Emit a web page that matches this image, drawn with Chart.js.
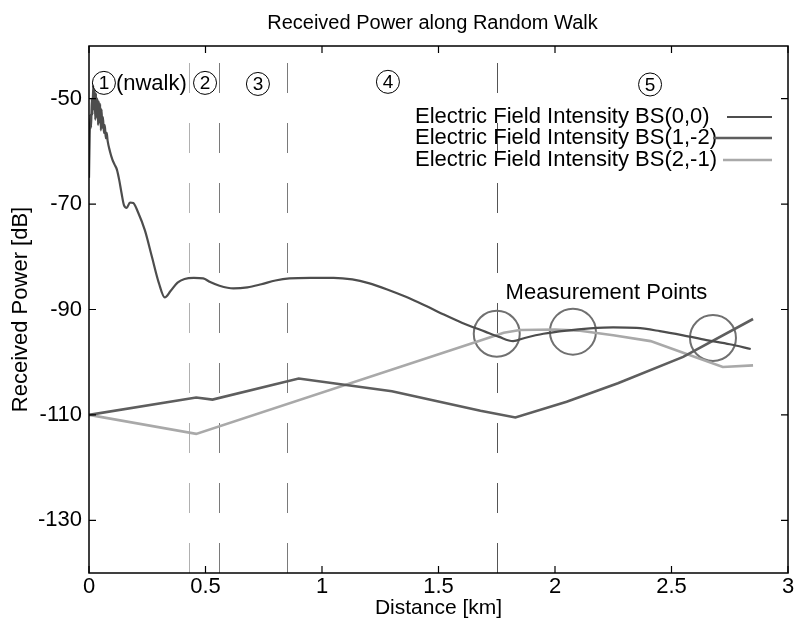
<!DOCTYPE html>
<html>
<head>
<meta charset="utf-8">
<title>Received Power along Random Walk</title>
<script src="https://cdn.jsdelivr.net/npm/chart.js@4.4.1/dist/chart.umd.min.js"></script>
<style>
  html, body { margin: 0; padding: 0; background: #fff; overflow: hidden; }
  #wrap { width: 797px; height: 631px; }
  canvas { display: block; }
</style>
</head>
<body>
<div id="wrap"><canvas id="chart" width="797" height="631"></canvas></div>
<script>
/* =========================
   DATA
========================= */
const seriesNames = [
  "Electric Field Intensity BS(0,0)",
  "Electric Field Intensity BS(1,-2)",
  "Electric Field Intensity BS(2,-1)"
];

const bs00Dist = [0, 0.003, 0.006, 0.009, 0.012, 0.015, 0.018, 0.021, 0.024, 0.027, 0.03,
  0.033, 0.036, 0.039, 0.042, 0.045, 0.048, 0.051, 0.054, 0.057, 0.06, 0.064, 0.068, 0.072,
  0.076, 0.08, 0.09, 0.1, 0.11,
  0.12, 0.13, 0.14, 0.15, 0.162, 0.176, 0.19, 0.21, 0.24, 0.27, 0.3, 0.325, 0.35, 0.38,
  0.41, 0.45, 0.49, 0.52, 0.56, 0.62, 0.68, 0.74, 0.8, 0.86, 0.95, 1.05, 1.13, 1.2, 1.28,
  1.36, 1.44, 1.52, 1.6, 1.7, 1.76, 1.82, 1.87, 1.95, 2.05, 2.15, 2.25, 2.35, 2.45, 2.55,
  2.65, 2.75, 2.84];
const bs00Power = [-65, -57, -53, -55.5, -50, -53, -47.5, -52, -48.5, -54, -49,
  -53.5, -50, -55, -50.5, -54.5, -51, -56, -52, -55.5, -53.5, -56.5, -55, -57.5,
  -56.5, -58, -60, -61.5, -62.5,
  -63.5, -65.5, -68, -70.2, -70.7, -69.7, -69.8, -71.5, -75, -80, -85, -87.7, -86.5, -84.9,
  -84.2, -84, -84.1, -84.8, -85.5, -86, -85.8, -85.2, -84.5, -84.1, -84, -84, -84.3, -85, -86.2,
  -87.6, -89.2, -90.9, -92.5, -94.2, -95.2, -96, -95.4, -94.6, -94, -93.6, -93.4, -93.5, -94.1, -94.9,
  -95.8, -96.6, -97.5];

const bs12Dist = [0, 0.46, 0.53, 0.9, 1.3, 1.68, 1.83, 2.05, 2.27, 2.55, 2.85];
const bs12Power = [-110, -106.7, -107.1, -103.1, -105.5, -109.2, -110.5, -107.5, -104, -99, -91.8];

const bs21Dist = [0, 0.46, 1.68, 1.78, 1.85, 2.0, 2.1, 2.25, 2.41, 2.55, 2.72, 2.85];
const bs21Power = [-110, -113.6, -95.9, -94.4, -93.9, -93.8, -94, -94.9, -96, -98.2, -100.9, -100.6];

// measurement points (circled)
const measDist = [1.75, 2.077, 2.678];
const measPower = [-94.6, -94.2, -95.4];

// section borders (dashed)
const sectionDist = [0.43, 0.56, 0.85, 1.75];

const xTicks = [0, 0.5, 1, 1.5, 2, 2.5, 3];
const yTicks = [-130, -110, -90, -70, -50];

/* =========================
   STYLE
========================= */
const FONT = "'Liberation Sans', Arial, Helvetica, sans-serif";
const lineColors = ["#4d4d4d", "#5e5e5e", "#a9a9a9"];
const sectionColors = ["#b0b0b0", "#7a7a7a", "#7a7a7a", "#555555"];

// section labels: circled number, optional trailing text, placed in km / dB
const sectionLabels = [
  { n: "1", x: 0.064, y: -47, extra: "(nwalk)" },
  { n: "2", x: 0.498, y: -47 },
  { n: "3", x: 0.725, y: -47.2 },
  { n: "4", x: 1.283, y: -46.8 },
  { n: "5", x: 2.408, y: -47.3 }
];

function zip(xs, ys) {
  return xs.map((x, i) => ({ x: x, y: ys[i] }));
}

/* =========================
   PLUGINS
========================= */
const sectionPlugin = {
  id: "sections",
  beforeDatasetsDraw(chart) {
    const { ctx, chartArea, scales } = chart;
    ctx.save();
    ctx.lineWidth = 1;
    ctx.setLineDash([30, 30]);
    sectionDist.forEach((d, i) => {
      const px = Math.round(scales.x.getPixelForValue(d)) + 0.5;
      ctx.strokeStyle = sectionColors[i];
      ctx.beginPath();
      ctx.moveTo(px, chartArea.bottom);
      ctx.lineTo(px, chartArea.top);
      ctx.stroke();
    });
    ctx.restore();
  }
};

const framePlugin = {
  id: "frame",
  afterDatasetsDraw(chart) {
    const { ctx, chartArea, scales } = chart;
    const { left, right, top, bottom } = chartArea;
    const tl = 7;
    ctx.save();
    ctx.strokeStyle = "#000";
    ctx.lineWidth = 1.5;
    ctx.strokeRect(left, top, right - left, bottom - top);
    ctx.lineWidth = 1.2;
    ctx.beginPath();
    xTicks.forEach(v => {
      const px = scales.x.getPixelForValue(v);
      ctx.moveTo(px, bottom); ctx.lineTo(px, bottom - tl);
      ctx.moveTo(px, top); ctx.lineTo(px, top + tl);
    });
    yTicks.forEach(v => {
      const py = scales.y.getPixelForValue(v);
      ctx.moveTo(left, py); ctx.lineTo(left + tl, py);
      ctx.moveTo(right, py); ctx.lineTo(right - tl, py);
    });
    ctx.stroke();

    // title over the plot
    ctx.fillStyle = "#000";
    ctx.font = "20px " + FONT;
    ctx.textAlign = "center";
    ctx.textBaseline = "middle";
    ctx.fillText("Received Power along Random Walk", (left + right) / 2 - 6, 23);

    // circled section numbers
    sectionLabels.forEach(s => {
      const cx = scales.x.getPixelForValue(s.x);
      const cy = scales.y.getPixelForValue(s.y);
      ctx.lineWidth = 1;
      ctx.beginPath();
      ctx.arc(cx, cy, 11.5, 0, Math.PI * 2);
      ctx.stroke();
      ctx.font = "19px " + FONT;
      ctx.textAlign = "center";
      ctx.fillText(s.n, cx, cy + 1);
      if (s.extra) {
        ctx.font = "22px " + FONT;
        ctx.textAlign = "left";
        ctx.fillText(s.extra, cx + 12, cy + 1);
      }
    });

    // measurement points label
    ctx.font = "22px " + FONT;
    ctx.textAlign = "center";
    ctx.fillText("Measurement Points", scales.x.getPixelForValue(2.221), scales.y.getPixelForValue(-86.95));

    // legend
    const lx = 415;
    const rows = [117, 138, 160];
    const sampleStart = [727, 713, 723];
    chart.data.datasets.slice(0, 3).forEach((ds, i) => {
      ctx.textAlign = "left";
      ctx.fillStyle = "#000";
      ctx.fillText(ds.label, lx, rows[i]);
      ctx.strokeStyle = ds.borderColor;
      ctx.lineWidth = ds.borderWidth;
      ctx.beginPath();
      ctx.moveTo(sampleStart[i], rows[i]);
      ctx.lineTo(772, rows[i]);
      ctx.stroke();
    });
    ctx.restore();
  }
};

/* =========================
   CHART
========================= */
const canvas = document.getElementById("chart");

new Chart(canvas, {
  type: "line",
  data: {
    datasets: [
      {
        label: seriesNames[0],
        data: zip(bs00Dist, bs00Power),
        borderColor: lineColors[0],
        borderWidth: 2.2,
        pointRadius: 0,
        cubicInterpolationMode: "monotone"
      },
      {
        label: seriesNames[1],
        data: zip(bs12Dist, bs12Power),
        borderColor: lineColors[1],
        borderWidth: 2.6,
        pointRadius: 0,
        tension: 0
      },
      {
        label: seriesNames[2],
        data: zip(bs21Dist, bs21Power),
        borderColor: lineColors[2],
        borderWidth: 2.6,
        pointRadius: 0,
        tension: 0
      },
      {
        label: "Measurement Points",
        data: zip(measDist, measPower),
        showLine: false,
        pointRadius: 23,
        pointBorderWidth: 2,
        pointBorderColor: "#707070",
        pointBackgroundColor: "rgba(0,0,0,0)"
      }
    ]
  },
  options: {
    responsive: false,
    animation: false,
    devicePixelRatio: 1,
    layout: { autoPadding: false, padding: { left: 0, right: 9, top: 46, bottom: 0 } },
    plugins: {
      legend: { display: false },
      tooltip: { enabled: false },
      title: { display: false }
    },
    scales: {
      x: {
        type: "linear",
        min: 0,
        max: 3,
        afterBuildTicks: axis => { axis.ticks = xTicks.map(v => ({ value: v })); },
        afterFit: axis => {
          axis.height = 58;
          axis.paddingLeft = 0;
          axis.paddingRight = 0;
        },
        grid: { display: false, drawTicks: false },
        border: { display: false },
        ticks: {
          color: "#000",
          font: { family: FONT, size: 22 },
          padding: 1,
          maxRotation: 0,
          callback: v => String(v)
        },
        title: {
          display: true,
          text: "Distance [km]",
          color: "#000",
          font: { family: FONT, size: 21 },
          padding: { top: 0, bottom: 10 }
        }
      },
      y: {
        type: "linear",
        min: -140,
        max: -40,
        afterBuildTicks: axis => { axis.ticks = yTicks.map(v => ({ value: v })); },
        afterFit: axis => {
          axis.width = 89;
          axis.paddingTop = 0;
          axis.paddingBottom = 0;
        },
        grid: { display: false, drawTicks: false },
        border: { display: false },
        ticks: {
          color: "#000",
          font: { family: FONT, size: 22 },
          padding: 7,
          callback: v => String(v)
        },
        title: {
          display: true,
          text: "Received Power [dB]",
          color: "#000",
          font: { family: FONT, size: 22 },
          padding: { top: 8, bottom: 0 }
        }
      }
    }
  },
  plugins: [sectionPlugin, framePlugin]
});
</script>
</body>
</html>
